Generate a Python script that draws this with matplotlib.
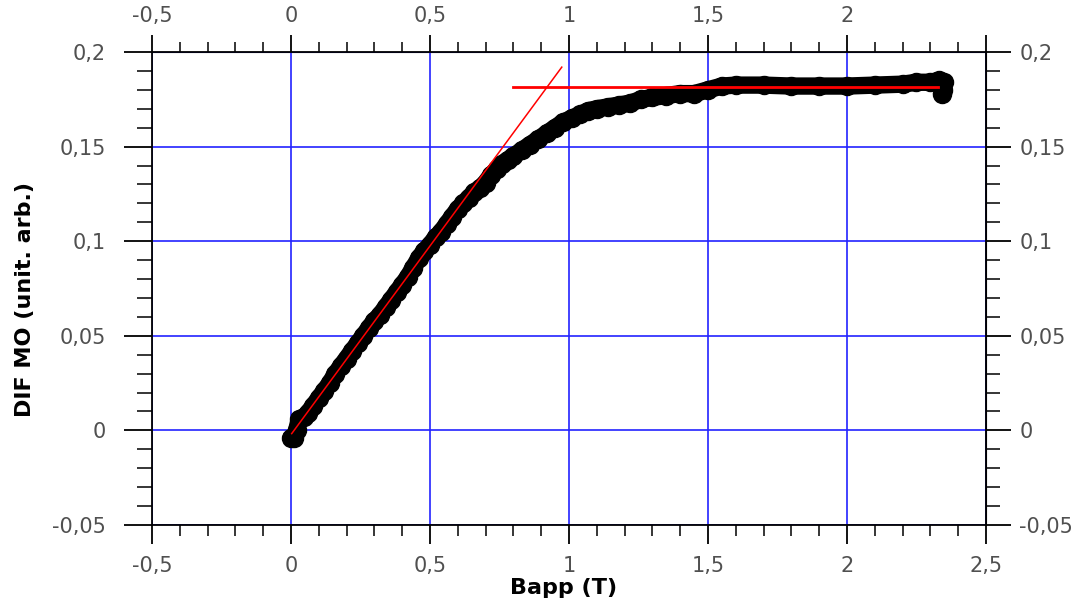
import matplotlib
matplotlib.use("Agg")
import matplotlib.pyplot as plt
from matplotlib.ticker import MultipleLocator

# mesures (Bapp en T, signal DIF MO)
b_app = [0.00, 0.01, 0.02, 0.03, 0.045, 0.06, 0.08, 0.10, 0.12, 0.14, 0.16, 0.18,
         0.20, 0.22, 0.24, 0.26, 0.28, 0.30, 0.32, 0.34, 0.36, 0.38, 0.40, 0.42,
         0.44, 0.46, 0.48, 0.50, 0.52, 0.54, 0.56, 0.58, 0.60, 0.62, 0.64, 0.66,
         0.68, 0.70, 0.72, 0.74, 0.76, 0.78, 0.80, 0.83, 0.86, 0.89, 0.92, 0.95,
         0.98, 1.01, 1.04, 1.07, 1.10, 1.14, 1.18, 1.22, 1.26, 1.30, 1.35, 1.40,
         1.45, 1.50, 1.55, 1.60, 1.70, 1.80, 1.90, 2.00, 2.10, 2.20, 2.25, 2.30,
         2.33, 2.35, 2.345, 2.34]
dif_mo = [-0.004, -0.004, 0.000, 0.006, 0.007, 0.009, 0.013, 0.017, 0.021, 0.025,
          0.030, 0.034, 0.038, 0.042, 0.046, 0.050, 0.054, 0.058, 0.061, 0.065,
          0.069, 0.073, 0.077, 0.081, 0.086, 0.091, 0.095, 0.098, 0.102, 0.105,
          0.109, 0.113, 0.117, 0.120, 0.123, 0.126, 0.128, 0.131, 0.135, 0.138,
          0.141, 0.143, 0.145, 0.148, 0.151, 0.154, 0.157, 0.160, 0.163, 0.165,
          0.167, 0.169, 0.170, 0.171, 0.172, 0.173, 0.175, 0.176, 0.177, 0.178,
          0.178, 0.180, 0.182, 0.1825, 0.1825, 0.182, 0.182, 0.182, 0.1825, 0.183,
          0.184, 0.184, 0.185, 0.184, 0.180, 0.178]

# droites d'ajustement
pente_x = [0.0025, 0.974]
pente_y = [-0.0017, 0.192]
sat_x = [0.80, 2.327]
sat_y = [0.1815, 0.1815]

x_ticks = [-0.5, 0, 0.5, 1, 1.5, 2, 2.5]
x_labels = ['-0,5', '0', '0,5', '1', '1,5', '2', '2,5']
x_labels_top = ['-0,5', '0', '0,5', '1', '1,5', '2', '']
y_ticks = [-0.05, 0, 0.05, 0.1, 0.15, 0.2]
y_labels = ['-0,05', '0', '0,05', '0,1', '0,15', '0,2']

plt.rcParams['font.family'] = ['DejaVu Sans']
gris = '#505050'

fig = plt.figure(figsize=(10.92, 6.01), dpi=100)
ax = fig.add_axes([152 / 1092, 76 / 601, 834 / 1092, 473 / 601])

ax.plot(b_app, dif_mo, color='black', lw=12.5, marker='o', ms=13,
        solid_capstyle='round', solid_joinstyle='round', zorder=3)
ax.plot(pente_x, pente_y, color='#ff0000', lw=1.1, zorder=4)
ax.plot(sat_x, sat_y, color='#ff0000', lw=2, zorder=4)

ax.set_xlim(-0.5, 2.5)
ax.set_ylim(-0.05, 0.2)
ax.set_xticks(x_ticks, labels=x_labels)
ax.set_yticks(y_ticks, labels=y_labels)
ax.xaxis.set_minor_locator(MultipleLocator(0.1))
ax.yaxis.set_minor_locator(MultipleLocator(0.01))
ax.grid(True, which='major', color='#2222ff', lw=1.2)
ax.set_axisbelow(True)

for s in ax.spines.values():
    s.set_color('black')
    s.set_linewidth(1.3)

ax.tick_params(axis='x', which='major', length=14, width=1.3, pad=8,
               labelsize=15, labelcolor=gris)
ax.tick_params(axis='x', which='minor', length=8, width=1.1)
ax.tick_params(axis='y', which='major', length=20, width=1.3, pad=13,
               labelsize=15, labelcolor=gris)
ax.tick_params(axis='y', which='minor', length=11, width=1.1)

# axes secondaires (haut et droite)
secx = ax.secondary_xaxis('top')
secx.set_xticks(x_ticks, labels=x_labels_top)
secx.xaxis.set_minor_locator(MultipleLocator(0.1))
secx.tick_params(which='major', length=12, width=1.3, pad=7,
                 labelsize=15, labelcolor=gris)
secx.tick_params(which='minor', length=7, width=1.1)

secy = ax.secondary_yaxis('right')
secy.set_yticks(y_ticks, labels=y_labels)
secy.yaxis.set_minor_locator(MultipleLocator(0.01))
secy.tick_params(which='major', length=18, width=1.3, pad=6,
                 labelsize=15, labelcolor=gris)
secy.tick_params(which='minor', length=10, width=1.1)

ax.set_xlabel('Bapp (T)', fontsize=16, fontweight='bold', va='center')
ax.xaxis.set_label_coords(0.494, -0.133)
ax.set_ylabel('DIF MO (unit. arb.)', fontsize=16, fontweight='bold', va='center')
ax.yaxis.set_label_coords(-0.152, 0.476)

fig.savefig('out.png', dpi=100)
